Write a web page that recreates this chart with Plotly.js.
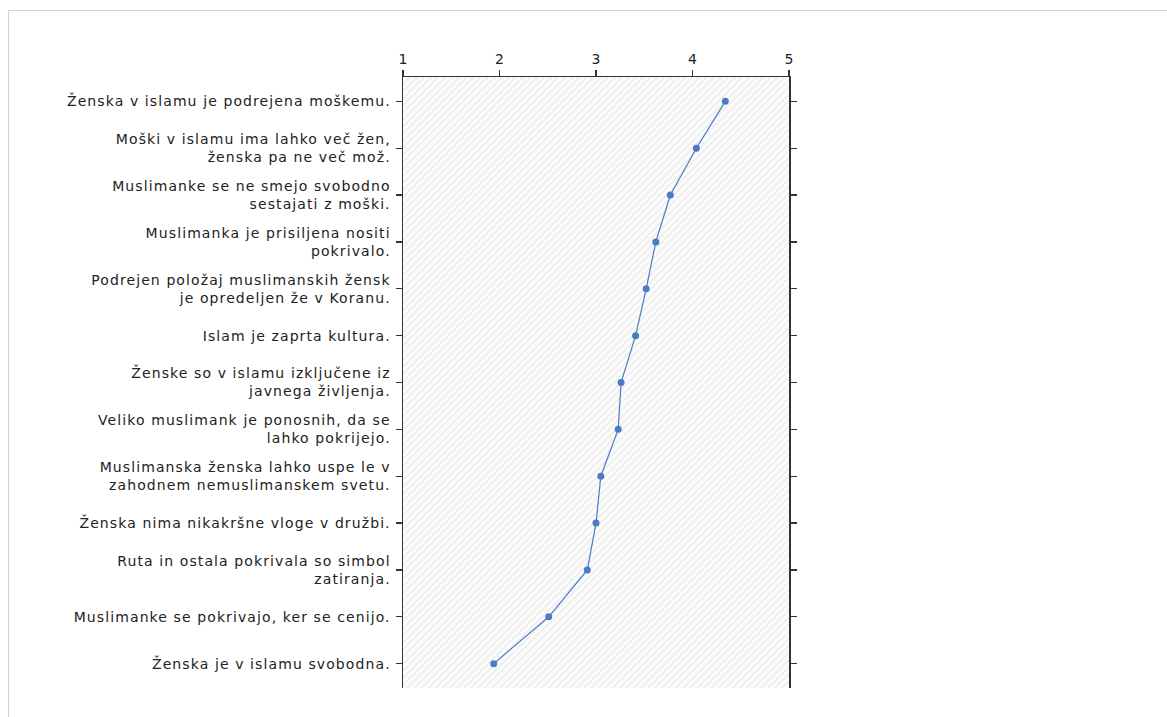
<!DOCTYPE html>
<html>
<head>
<meta charset="utf-8">
<script src="https://cdn.plot.ly/plotly-3.0.1.min.js"></script>
<style>
  html, body { margin: 0; padding: 0; background: #fff; }
  #frame { position: absolute; left: 8px; top: 10px; width: 1170px; height: 720px; border: 1px solid #d4d4d4; box-sizing: border-box; }
  #chart { position: absolute; left: 0; top: 0; width: 1167px; height: 717px; }
  #chart .ytick text { letter-spacing: 1.1px; }
</style>
</head>
<body>
<div id="frame"></div>
<div id="chart"></div>
<script>
const categories = [
  "Ženska v islamu je podrejena moškemu.",
  "Moški v islamu ima lahko več žen,<br>ženska pa ne več mož.",
  "Muslimanke se ne smejo svobodno<br>sestajati z moški.",
  "Muslimanka je prisiljena nositi<br>pokrivalo.",
  "Podrejen položaj muslimanskih žensk<br>je opredeljen že v Koranu.",
  "Islam je zaprta kultura.",
  "Ženske so v islamu izključene iz<br>javnega življenja.",
  "Veliko muslimank je ponosnih, da se<br>lahko pokrijejo.",
  "Muslimanska ženska lahko uspe le v<br>zahodnem nemuslimanskem svetu.",
  "Ženska nima nikakršne vloge v družbi.",
  "Ruta in ostala pokrivala so simbol<br>zatiranja.",
  "Muslimanke se pokrivajo, ker se cenijo.",
  "Ženska je v islamu svobodna."
];
const values = [4.34, 4.04, 3.77, 3.62, 3.52, 3.41, 3.26, 3.23, 3.05, 3.00, 2.91, 2.51, 1.94];
const xTicks = [1, 2, 3, 4, 5];
const xRange = [1, 5];

const idx = categories.map((_, i) => i);
const yRange = [categories.length - 0.48, -0.52];

const bg = {
  x: [xRange[0], xRange[1], xRange[1], xRange[0], xRange[0]],
  y: [yRange[1], yRange[1], yRange[0], yRange[0], yRange[1]],
  xaxis: 'x', yaxis: 'y',
  mode: 'lines', fill: 'toself',
  line: { width: 0, color: 'rgba(0,0,0,0)' },
  fillcolor: '#fafafa',
  fillpattern: { shape: '/', fgcolor: '#e4e4e4', bgcolor: '#fbfbfb', size: 5, solidity: 0.2 },
  hoverinfo: 'skip', showlegend: false
};

const line = {
  x: values, y: idx,
  mode: 'lines+markers',
  line: { color: '#4a7cc4', width: 1.2 },
  marker: { color: '#4a7cc4', size: 7 },
  showlegend: false
};

const font = { family: 'DejaVu Sans, Verdana, sans-serif', size: 14, color: '#222' };

const layout = {
  width: 1167, height: 717,
  margin: { l: 403, r: 378, t: 77, b: 29 },
  paper_bgcolor: 'rgba(0,0,0,0)',
  plot_bgcolor: 'rgba(0,0,0,0)',
  font: font,
  showlegend: false,
  xaxis: {
    side: 'top', range: xRange, tickvals: xTicks, ticktext: xTicks.map(String),
    showline: true, linecolor: '#333', linewidth: 1.5,
    ticks: 'outside', ticklen: 6, tickcolor: '#333', tickwidth: 1.2,
    showgrid: true, gridcolor: '#e0e0e0', griddash: 'dash', gridwidth: 1,
    zeroline: false, tickfont: { family: font.family, size: 14, color: '#222' }
  },
  yaxis: {
    range: yRange, tickvals: idx, ticktext: categories,
    showline: true, linecolor: '#333', linewidth: 1.5, mirror: 'ticks',
    ticks: 'outside', ticklen: 6, tickcolor: '#333', tickwidth: 1.2,
    showgrid: true, gridcolor: '#e0e0e0', griddash: 'dash', gridwidth: 1,
    zeroline: false, tickfont: font, ticklabelstandoff: 2
  }
};

Plotly.newPlot('chart', [bg, line], layout, { displayModeBar: false, staticPlot: true });
</script>
</body>
</html>
